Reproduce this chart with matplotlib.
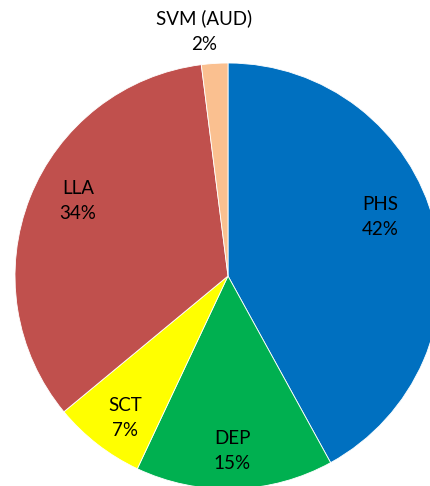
import numpy as np
import matplotlib.pyplot as plt

#data
labels = ['PHS', 'DEP', 'SCT', 'LLA', 'SVM (AUD)']
shares = [42, 15, 7, 34, 2]
colors = ['#0070C0', '#00B050', '#FFFF00', '#C0504D', '#FAC090']

#label positions in pixels (x, y from top)
label_pos = [(380, 217), (232, 451), (125, 418), (78, 201), (204, 31)]

W, H = 430, 486
fig = plt.figure(figsize=(W/100., H/100.), dpi=100)
ax = fig.add_axes([0, 0, 1, 1])
ax.set_xlim(0, W)
ax.set_ylim(0, H)
ax.set_aspect('equal')
ax.axis('off')

ax.pie(shares, colors=colors, startangle=90, counterclock=False,
       center=(228, H-276), radius=213,
       wedgeprops=dict(edgecolor='white', linewidth=0.6))

for lab, val, (x, y) in zip(labels, shares, label_pos):
    ax.text(x, H-y, lab + '\n' + str(val) + '%', ha='center', va='center',
            fontsize=13.5, family='Lato', linespacing=1.6, color='black')

ax.set_xlim(0, W)
ax.set_ylim(0, H)
fig.savefig('out.png', dpi=100)
